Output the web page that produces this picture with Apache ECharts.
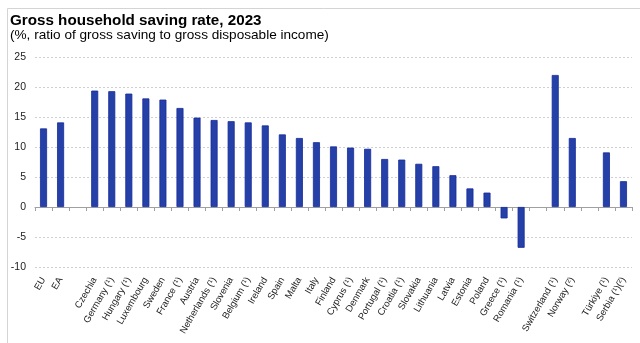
<!DOCTYPE html>
<html>
<head>
<meta charset="utf-8">
<script src="https://cdn.jsdelivr.net/npm/echarts@6/dist/echarts.min.js"></script>
<style>
html,body{margin:0;padding:0;background:#fff;}
#c{width:640px;height:343px;}
</style>
</head>
<body>
<div id="c"></div>
<script>
const categories = ['EU','EA','','Czechia','Germany (¹)','Hungary (¹)','Luxembourg','Sweden','France (¹)','Austria','Netherlands (¹)','Slovenia','Belgium (¹)','Ireland','Spain','Malta','Italy','Finland','Cyprus (¹)','Denmark','Portugal (¹)','Croatia (¹)','Slovakia','Lithuania','Latvia','Estonia','Poland','Greece (¹)','Romania (¹)','','Switzerland (¹)','Norway (²)','','Türkiye (¹)','Serbia (¹)(²)'];
const savingRate = [13.1,14.1,null,19.4,19.3,18.9,18.1,17.9,16.5,14.9,14.5,14.3,14.1,13.6,12.1,11.5,10.8,10.1,9.9,9.7,8.0,7.9,7.2,6.8,5.3,3.1,2.4,-1.9,-6.8,null,22.0,11.5,null,9.1,4.3];
const yTicks = {min:-10, max:25, interval:5};

const chart = echarts.init(document.getElementById('c'), null, {renderer:'canvas'});
const font = 'Arial, "Liberation Sans", sans-serif';
chart.setOption({
  animation:false,
  backgroundColor:'#fff',
  title:[
    {text:'Gross household saving rate, 2023', left:5, top:8, textStyle:{fontFamily:font, fontSize:15.2, fontWeight:'bold', color:'#000'}},
    {text:'(%, ratio of gross saving to gross disposable income)', left:5, top:23, textStyle:{fontFamily:font, fontSize:13.6, fontWeight:'normal', color:'#000'}}
  ],
  graphic:[
    {type:'line', shape:{x1:7.5,y1:8.5,x2:640,y2:8.5}, style:{stroke:'#d4d4d4', lineWidth:1}},
    {type:'line', shape:{x1:7.5,y1:8.5,x2:7.5,y2:343}, style:{stroke:'#d4d4d4', lineWidth:1}}
  ],
  grid:{left:35, right:8, top:57, bottom:76, containLabel:false},
  xAxis:[
    {type:'category', data:categories, position:'bottom',
     axisLine:{onZero:true, lineStyle:{color:'#a0a0a0', width:1}},
     axisTick:{show:true, interval:0, length:4, lineStyle:{color:'#a0a0a0'}},
     axisLabel:{show:false}, splitLine:{show:false}},
    {type:'category', data:categories, position:'bottom', gridIndex:0,
     axisLine:{show:false, onZero:false}, axisTick:{show:false},
     axisLabel:{show:true, rotate:60, interval:0, margin:11, fontFamily:font, fontSize:9.5, color:'#222'},
     splitLine:{show:false}}
  ],
  yAxis:{type:'value', min:yTicks.min, max:yTicks.max, interval:yTicks.interval,
    axisLine:{show:false}, axisTick:{show:false},
    axisLabel:{fontFamily:font, fontSize:10.5, color:'#222', margin:9},
    splitLine:{show:true, lineStyle:{color:'#d0d0d0', type:[2,2], width:1}}},
  series:[{type:'bar', xAxisIndex:0, data:savingRate, barWidth:7,
    itemStyle:{color:'#2541a8', borderColor:'#16299a', borderWidth:0.8}}]
});
</script>
</body>
</html>
